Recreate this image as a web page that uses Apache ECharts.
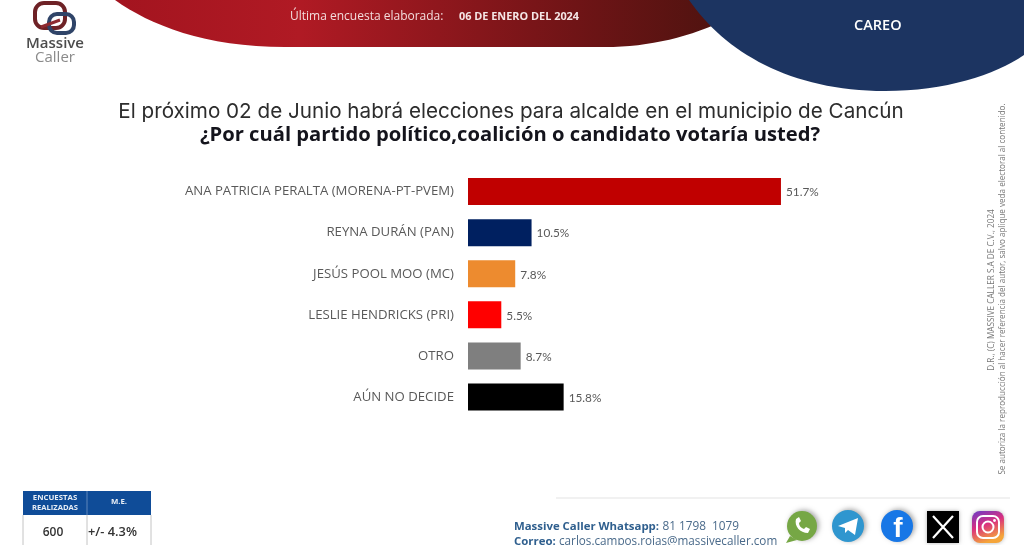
<!DOCTYPE html>
<html><head><meta charset="utf-8">
<style>html,body{margin:0;padding:0;background:#fff}#c{width:1024px;height:545px}</style>
<script src="https://cdn.jsdelivr.net/npm/echarts@6/dist/echarts.min.js"></script>
</head><body><div id="c"></div>
<script>
const categories = ['ANA PATRICIA PERALTA (MORENA-PT-PVEM)','REYNA DURÁN (PAN)','JESÚS POOL MOO (MC)','LESLIE HENDRICKS (PRI)','OTRO','AÚN NO DECIDE'];
const values = [51.7,10.5,7.8,5.5,8.7,15.8];
const barColors = ['#c00000','#002060','#ed8b2f','#ff0000','#7f7f7f','#000000'];
const titleLine1 = 'El próximo 02 de Junio habrá elecciones para alcalde en el municipio de Cancún';
const titleLine2 = '¿Por cuál partido político,coalición o candidato votaría usted?';

const SANS='"Open Sans","Noto Sans",sans-serif', INTER='Inter,"Open Sans",sans-serif';
function t(x,y,text,fs,fill,extra){return {type:'text',x:x,y:y,z:10,style:Object.assign({text:text,fontSize:fs,fill:fill,fontFamily:SANS,textVerticalAlign:'middle'},extra||{})};}
let pn=0;
function pth(d,z,style){const name='deco'+(pn++);echarts.graphic.registerShape(name,echarts.graphic.extendPath(d));return {type:name,z:z,style:style};}
const g=[];
g.push(pth('M115 0 C150 25 205 47 285 47 L605 47 C650 47 690 37 730 18 L730 0 Z',1,{fill:new echarts.graphic.LinearGradient(0,0,1,0,[{offset:0,color:'#a3141f'},{offset:.3,color:'#b01a24'},{offset:.75,color:'#6f1416'},{offset:1,color:'#4d130f'}])}));
g.push(pth('M689 0 C725 52 790 91 885 91 C945 91 995 75 1024 55 L1024 0 Z',2,{fill:'#1c3461'}));
g.push(t(290,17,'Última encuesta elaborada:',12,'#f3dcdc'));
g.push(t(459,17,'06 DE ENERO DEL 2024',10.9,'#f5e6e6',{fontWeight:'bold'}));
g.push(t(854,26,'CAREO',14.5,'#ffffff',{fontWeight:'600'}));
g.push({type:'rect',z:3,shape:{x:35,y:3,width:30,height:25,r:9},style:{fill:'none',stroke:'#6e2226',lineWidth:4}});
g.push({type:'rect',z:4,shape:{x:49,y:14,width:25,height:19,r:8},style:{fill:'none',stroke:'#2f4468',lineWidth:4}});
g.push({type:'line',z:5,shape:{x1:41,y1:27,x2:60,y2:20},style:{stroke:'#8e2a30',lineWidth:3}});
g.push(t(55,44,'Massive',15,'#4c4c4c',{fontWeight:'600',textAlign:'center'}));
g.push(t(55,58,'Caller',15,'#8a8a8a',{textAlign:'center'}));
g.push(t(511,111.5,titleLine1,20.65,'#2d2d2d',{textAlign:'center',fontFamily:INTER}));
g.push(t(510,135.5,titleLine2,20.2,'#14141c',{textAlign:'center',fontWeight:'bold'}));
g.push({type:'text',x:992,y:290,rotation:Math.PI/2,z:10,style:{text:'D.R., (C) MASSIVE CALLER S.A DE C.V., 2024',fontSize:8.2,fill:'#777',fontFamily:SANS,textAlign:'center',textVerticalAlign:'middle'}});
g.push({type:'text',x:1003,y:289,rotation:Math.PI/2,z:10,style:{text:'Se autoriza la reproducción al hacer referencia del autor, salvo aplique veda electoral al contenido.',fontSize:8.1,fill:'#777',fontFamily:SANS,textAlign:'center',textVerticalAlign:'middle'}});
g.push({type:'rect',z:3,shape:{x:23,y:491,width:128,height:24},style:{fill:'#0f4c98'}});
g.push({type:'line',z:4,shape:{x1:87,y1:491,x2:87,y2:515},style:{stroke:'#5f86bb',lineWidth:1}});
g.push({type:'line',z:3,shape:{x1:23,y1:515,x2:23,y2:545},style:{stroke:'#c4c4c4',lineWidth:1}});
g.push({type:'line',z:3,shape:{x1:87,y1:515,x2:87,y2:545},style:{stroke:'#c4c4c4',lineWidth:1}});
g.push({type:'line',z:3,shape:{x1:151,y1:515,x2:151,y2:545},style:{stroke:'#c4c4c4',lineWidth:1}});
g.push(t(55,498,'ENCUESTAS',7.8,'#e8eef6',{fontWeight:'bold',textAlign:'center'}));
g.push(t(55,507.5,'REALIZADAS',7.6,'#e8eef6',{fontWeight:'bold',textAlign:'center'}));
g.push(t(119,502,'M.E.',7.8,'#e8eef6',{fontWeight:'bold',textAlign:'center'}));
g.push(t(53,532.5,'600',12,'#333',{fontWeight:'600',textAlign:'center'}));
g.push(t(88,532.5,'+/- 4.3%',12.8,'#333',{fontWeight:'600'}));
g.push({type:'line',z:2,shape:{x1:556,y1:498,x2:1010,y2:498},style:{stroke:'#e3e3e3',lineWidth:1}});
g.push({type:'text',x:514,y:527,z:10,style:{rich:{a:{fontSize:11.4,fontWeight:'bold',fill:'#2f5f8e',fontFamily:'"Open Sans"'},b:{fontSize:11.8,fill:'#4a6a8a',fontFamily:'"Open Sans"'}},text:'{a|Massive Caller Whatsapp:} {b|81 1798  1079}',textVerticalAlign:'middle'}});
g.push({type:'text',x:514,y:542,z:10,style:{rich:{a:{fontSize:11.4,fontWeight:'bold',fill:'#2f5f8e',fontFamily:'"Open Sans"'},b:{fontSize:11.7,fill:'#4a6a8a',fontFamily:'"Open Sans"'}},text:'{a|Correo:} {b|carlos.campos.rojas@massivecaller.com}',textVerticalAlign:'middle'}});
function circ(cx,cy,r,fill){return {type:'circle',z:3,shape:{cx:cx,cy:cy,r:r},style:{fill:fill,shadowBlur:5,shadowColor:'rgba(0,0,0,.35)',shadowOffsetX:2,shadowOffsetY:-1}};}
g.push(circ(802,526,15,'#76a745'));
g.push(pth('M790 536 L786 543 L797 540 Z',4,{fill:'#76a745'}));
g.push(pth('M796 519 C794 526 800 533 808 533 L810 529 L806 527 L804 529 C801 528 799 526 799 523 L801 521 L799 517 Z',5,{fill:'#fff'}));
g.push(circ(848,526,16,'#2f96cf'));
g.push(pth('M838 526 L858 518 L855 535 L848 530 L845 533 L845 528 Z',5,{fill:'#fff'}));
g.push(circ(897,526,16,'#1877e6'));
g.push({type:'text',x:898,y:529,z:5,style:{text:'f',fontSize:28,fontWeight:'bold',fill:'#fff',fontFamily:'"Liberation Sans"',textAlign:'center',textVerticalAlign:'middle'}});
g.push({type:'rect',z:3,shape:{x:927,y:511,width:32,height:32},style:{fill:'#000',shadowBlur:4,shadowColor:'rgba(0,0,0,.3)'}});
g.push(pth('M933 516 L953 538 M953 516 L933 538',4,{stroke:'#fff',lineWidth:2.2,fill:'none'}));
g.push({type:'rect',z:3,shape:{x:972,y:511,width:32,height:32,r:8},style:{fill:new echarts.graphic.LinearGradient(0,0,.4,1,[{offset:0,color:'#6a3bc8'},{offset:.5,color:'#d92f7f'},{offset:1,color:'#f5a53a'}]),shadowBlur:4,shadowColor:'rgba(0,0,0,.3)'}});
g.push({type:'rect',z:4,shape:{x:977,y:516,width:22,height:22,r:6},style:{fill:'none',stroke:'#fff',lineWidth:2}});
g.push({type:'circle',z:4,shape:{cx:988,cy:527,r:5.5},style:{fill:'none',stroke:'#fff',lineWidth:2}});
g.push({type:'circle',z:4,shape:{cx:994.5,cy:520.5,r:1.4},style:{fill:'#fff'}});

const chart=echarts.init(document.getElementById('c'),null,{renderer:'canvas'});
chart.setOption({
  animation:false,backgroundColor:'#fff',
  grid:{left:468,top:171,width:363.2,height:246.6},
  xAxis:{type:'value',min:0,max:60,show:false},
  yAxis:{type:'category',inverse:true,data:categories,
    axisLine:{show:false},axisTick:{show:false},
    axisLabel:{fontFamily:SANS,fontSize:13.2,color:'#595959',margin:14,padding:[2,0,0,0]}},
  series:[{type:'bar',barWidth:27,
    data:values.map((v,i)=>({value:v,itemStyle:{color:barColors[i]}})),
    label:{show:true,position:'right',distance:5,offset:[0,1],fontFamily:'Lato,"Open Sans",sans-serif',fontSize:11.8,color:'#595959',formatter:p=>p.value.toFixed(1)+'%'}}],
  graphic:g
});
</script></body></html>
